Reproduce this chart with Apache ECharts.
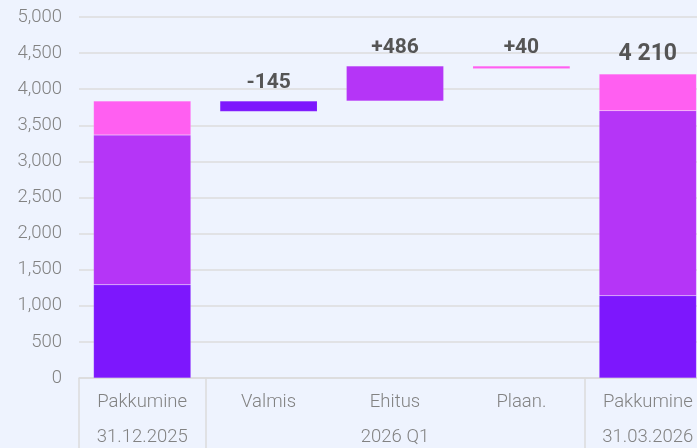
<!DOCTYPE html>
<html>
<head>
<meta charset="utf-8">
<script src="https://cdn.jsdelivr.net/npm/echarts@6/dist/echarts.min.js"></script>
<style>
  html, body { margin: 0; padding: 0; background: #eef3fe; }
  #chart { width: 697px; height: 448px; }
</style>
</head>
<body>
<div id="chart"></div>
<script>
// categories and the period row under them
const categories = ['Pakkumine', 'Valmis', 'Ehitus', 'Plaan.', 'Pakkumine']
const periods = ['31.12.2025', '', '2026 Q1', '', '31.03.2026']

// invisible offset under the floating bars
const baseValues = [0, 3692, 3837, 4283, 0]
// stacked parts
const darkValues = [1290, 145, '-', '-', 1140]
const midValues = [2075, '-', 486, '-', 2562]
const pinkValues = [470, '-', '-', 40, 508]
const barLabels = ['', '-145', '+486', '+40', '4 210']

const tickAt = [0, 1, 4]

let chart = echarts.init(document.querySelector('#chart'))

function topSeries(i) {
    if (pinkValues[i] !== '-') return 'pink'
    if (midValues[i] !== '-') return 'mid'
    return 'dark'
}

function withLabels(values, key) {
    return values.map((v, i) => {
        if (v === '-' || !barLabels[i] || topSeries(i) !== key) return v
        return {
            value: v,
            label: {
                show: true,
                position: 'top',
                distance: 8,
                formatter: barLabels[i],
                color: '#555',
                fontWeight: 'bold',
                fontFamily: 'Roboto',
                fontSize: i === 4 ? 23 : 21
            }
        }
    })
}

const border = { borderColor: 'rgba(255,255,255,0.2)', borderWidth: 0.5 }

let option = {
    backgroundColor: '#eef3fe',
    animation: false,
    grid: {
        left: 79, top: 17, width: 632, height: 361,
        containLabel: false,
        outerBoundsMode: 'none'
    },
    xAxis: {
        type: 'category',
        data: categories.map((c, i) => i),
        axisLine: { lineStyle: { color: '#dcdcdc', width: 1.5 } },
        axisTick: {
            show: true,
            length: 80,
            interval: (index) => tickAt.indexOf(index) >= 0,
            lineStyle: { color: '#dcdcdc', width: 1.5 }
        },
        axisLabel: {
            interval: 0,
            margin: 7,
            color: '#828282',
            fontFamily: 'Roboto',
            fontWeight: 300,
            fontSize: 18.5,
            lineHeight: 35,
            formatter: (v, i) => categories[i] + '\n' + (periods[i] || ' ')
        }
    },
    yAxis: {
        type: 'value',
        min: 0,
        max: 5000,
        interval: 500,
        axisLine: { show: false },
        axisTick: { show: false },
        splitLine: { lineStyle: { color: '#dcdcdc', width: 1.5 } },
        axisLabel: {
            margin: 17,
            color: '#828282',
            fontFamily: 'Roboto',
            fontWeight: 300,
            fontSize: 18.5
        }
    },
    series: [
        {
            name: 'base',
            type: 'bar',
            stack: 'w',
            barWidth: '77%',
            itemStyle: { color: 'transparent' },
            data: baseValues
        },
        {
            name: 'dark',
            type: 'bar',
            stack: 'w',
            itemStyle: Object.assign({ color: '#7d17fd' }, border),
            data: withLabels(darkValues, 'dark')
        },
        {
            name: 'mid',
            type: 'bar',
            stack: 'w',
            itemStyle: Object.assign({ color: '#b535f7' }, border),
            data: withLabels(midValues, 'mid')
        },
        {
            name: 'pink',
            type: 'bar',
            stack: 'w',
            itemStyle: Object.assign({ color: '#ff5ff1' }, border),
            data: withLabels(pinkValues, 'pink')
        }
    ]
}
chart.setOption(option)
</script>
</body>
</html>
